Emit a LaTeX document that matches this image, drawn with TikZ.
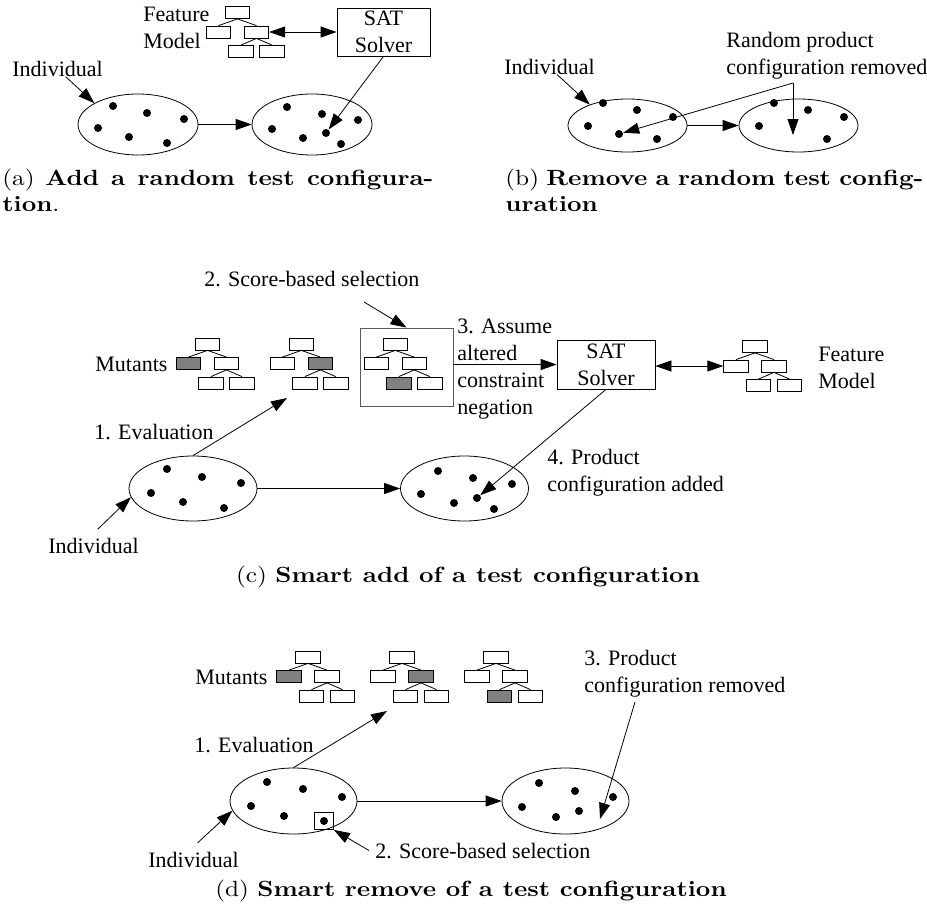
\documentclass[tikz,border=0pt]{standalone}
\usepackage{fontspec}
\setmainfont{Liberation Serif}
\newfontfamily\capfont{lmroman10-regular.otf}[BoldFont=lmroman10-bold.otf, FakeStretch=1.15]
\usepackage{tikz}
\usetikzlibrary{arrows.meta,shapes,positioning,calc}
\usepackage{xcolor}
\definecolor{fmgrey}{RGB}{128,128,128}
\definecolor{selgrey}{RGB}{90,90,90}
\tikzstyle{arrow} = [->,>={Triangle[length=8pt,width=5.5pt]}]
\tikzstyle{biarrow} = [<->,>={Triangle[length=8pt,width=5.5pt]}]
\tikzstyle{fmbox} = [rectangle, draw, fill=white, minimum width=12.25pt, minimum height=6pt, inner sep=0pt]
\tikzstyle{indiv} = [ellipse, draw, inner sep=0pt]
\tikzstyle{pdot} = [circle, fill, inner sep=0pt, minimum size=4pt]
\tikzstyle{lbl} = [anchor=base west, inner sep=0pt, align=left, font=\fontsize{11}{13.5}\selectfont]
\tikzstyle{satbox} = [rectangle, draw, inner sep=0pt, align=center, font=\fontsize{11}{13.5}\selectfont]
\tikzstyle{caption} = [inner sep=0pt, font=\capfont\fontsize{11}{13}\selectfont]
% small feature model tree: #1 name, #2 centre of the top box
\newcommand{\fmtree}[2]{%
  \node[fmbox] (#1t) at (#2) {};
  \node[fmbox] (#1l) at ($(#1t)+(-19,19.5)$) {};
  \node[fmbox] (#1r) at ($(#1t)+(19,19.5)$) {};
  \node[fmbox] (#1rl) at ($(#1r)+(-15.5,19.5)$) {};
  \node[fmbox] (#1rr) at ($(#1r)+(15.5,19.5)$) {};
  \draw (#1t.south) -- (#1l.north);
  \draw (#1t.south) -- (#1r.north);
  \draw (#1r.south) -- (#1rl.north);
  \draw (#1r.south) -- (#1rr.north);
}

\begin{document}
\begin{tikzpicture}[x=0.5pt, y=-0.5pt]
\useasboundingbox (0,0) rectangle (927,905);

% (a) Add a random test configuration
\fmtree{fa}{237.5,12.5}
\node[lbl] (fma) at (143,48) {Feature\\Model};
\node[satbox, minimum width=46.5pt, minimum height=24pt] (sata) at (383.5,32) {SAT\\Solver};
\node[lbl] (ia) at (12,76) {Individual};
\node[indiv, minimum width=60pt, minimum height=30.5pt] (ea1) at (138,124.5) {};
\node[indiv, minimum width=60pt, minimum height=30.5pt] (ea2) at (312,124.5) {};
\foreach \x/\y [count=\i] in {113/106,147/113,184/119,98/128,129/137,167/143}
  \node[pdot] (a1-\i) at (\x,\y) {};
\foreach \x/\y [count=\i] in {287/107,322/114,358/120,272/129,303/138,326/133,341/144}
  \node[pdot] (a2-\i) at (\x,\y) {};
\draw[biarrow] (far.east) -- (far.east -| sata.west);
\draw[arrow] (sata.south) -- (a2-6);
\draw[arrow] ([xshift=4pt]ia.south) -- (ea1.154);
\draw[arrow] (ea1.east) -- (ea2.west);
\node[caption, anchor=base west] (capa) at (2,185) {\parbox[t]{215.5pt}{\hyphenpenalty=10000 (a)~\textbf{Add~a~random~test~configura-}\linebreak\textbf{tion}.}};

% (b) Remove a random test configuration
\node[lbl] (ib) at (504,74) {Individual};
\node[lbl] (rp) at (726,74) {Random product\\configuration removed};
\node[indiv, minimum width=59.5pt, minimum height=26.5pt] (eb1) at (627.5,125.5) {};
\node[indiv, minimum width=59.5pt, minimum height=26.5pt] (eb2) at (798.5,125.5) {};
\foreach \x/\y [count=\i] in {603/103,637/110,673/117,588/126,619/134,657/139}
  \node[pdot] (b1-\i) at (\x,\y) {};
\foreach \x/\y [count=\i] in {774/103,808/110,844/117,759/126,827/139}
  \node[pdot] (b2-\i) at (\x,\y) {};
\coordinate (rpa) at (793,83);
\coordinate (rpb) at (793,135);
\draw[arrow] ([xshift=3.75pt]ib.south) -- (eb1.151);
\draw[arrow] (eb1.east) -- (eb2.west);
\draw[arrow] (rpa) -- (b1-5);
\draw[arrow] (rpa) -- (rpb);
\node[caption, anchor=base west] (capb) at (505,185) {\parbox[t]{209pt}{\hyphenpenalty=10000 (b)~\textbf{Remove~a~random~test~config-}\linebreak\textbf{uration}}};

% (c) Smart add of a test configuration
\fmtree{c1}{207.5,344}
\node[fmbox, fill=fmgrey] (c1g) at (c1l) {};
\fmtree{c2}{301.3,344}
\node[fmbox, fill=fmgrey] (c2g) at (c2r) {};
\node[rectangle, draw=selgrey, minimum width=46.5pt, minimum height=39pt] (selc) at (406.5,367) {};
\fmtree{c3}{395.3,344}
\node[fmbox, fill=fmgrey] (c3g) at (c3rl) {};
\fmtree{fc}{755,346.5}
\node[lbl] (mc) at (95,371) {Mutants};
\node[lbl] (sc) at (204,286) {2. Score-based selection};
\node[lbl] (evc) at (94,439) {1. Evaluation};
\node[lbl] (ic) at (48,553) {Individual};
\node[lbl] (asc) at (457,414) {3. Assume\\altered\\constraint\\negation};
\node[satbox, minimum width=49pt, minimum height=24.5pt] (satc) at (606,364.5) {SAT\\Solver};
\node[lbl] (fmc) at (818,388) {Feature\\Model};
\node[lbl] (pac) at (547,491) {4. Product\\configuration added};
\node[indiv, minimum width=64pt, minimum height=32.5pt] (ec1) at (193,488.5) {};
\node[indiv, minimum width=64pt, minimum height=32.5pt] (ec2) at (464.5,488.5) {};
\foreach \x/\y [count=\i] in {167/469,202/477,241/483,151/493,183/502,224/508}
  \node[pdot] (c1-\i) at (\x,\y) {};
\foreach \x/\y [count=\i] in {438/471,473/478,512/484,421/494,454/503,477/498,494/509}
  \node[pdot] (c2-\i) at (\x,\y) {};
\coordinate (scs) at (364,302);
\coordinate (evct) at (287,398);
\draw[arrow] (scs) -- (selc.north);
\draw[arrow] (ec1.north) -- (evct);
\draw[arrow] (satc.west -| selc.east) -- (satc.west);
\draw[biarrow] (fcl.west -| satc.east) -- (fcl.west);
\draw[arrow] (satc.south) -- (c2-6);
\draw[arrow] (ec1.east) -- (ec2.west);
\draw[arrow] ([shift={(4,-8)}]ic.north) -- (ec1.188);
\node[caption, anchor=base] (capc) at (468,582) {(c) \textbf{Smart add of a test configuration}};

% (d) Smart remove of a test configuration
\fmtree{d1}{308,657}
\node[fmbox, fill=fmgrey] (d1g) at (d1l) {};
\fmtree{d2}{402,657}
\node[fmbox, fill=fmgrey] (d2g) at (d2r) {};
\fmtree{d3}{496,657}
\node[fmbox, fill=fmgrey] (d3g) at (d3rl) {};
\node[lbl] (md) at (195,684) {Mutants};
\node[lbl] (evd) at (194,752) {1. Evaluation};
\node[lbl] (id) at (148,867) {Individual};
\node[lbl] (sd) at (375,858) {2. Score-based selection};
\node[lbl] (prd) at (584,692) {3. Product\\configuration removed};
\node[indiv, minimum width=63.5pt, minimum height=33pt] (ed1) at (293.5,801) {};
\node[indiv, minimum width=63.5pt, minimum height=33pt] (ed2) at (565.5,801) {};
\foreach \x/\y [count=\i] in {267/782,303/789,342/797,251/806,284/816,324/821}
  \node[pdot] (d1-\i) at (\x,\y) {};
\node[rectangle, draw, inner sep=0pt, minimum width=9.5pt, minimum height=8.5pt] (seld) at (d1-6) {};
\foreach \x/\y [count=\i] in {539/783,575/791,613/797,522/807,556/817,579/811}
  \node[pdot] (d2-\i) at (\x,\y) {};
\coordinate (evdt) at (387,711);
\coordinate (prds) at (635,702);
\coordinate (prdt) at (600,819);
\draw[arrow] (ed1.north) -- (evdt);
\draw[arrow] (ed1.east) -- (ed2.west);
\draw[arrow] ([shift={(4,-8.5)}]id.north) -- (ed1.189);
\draw[arrow] ([xshift=-3pt]sd.west) -- (seld.south east);
\draw[arrow] (prds) -- (prdt);
\node[caption, anchor=base] (capd) at (471,896) {(d) \textbf{Smart remove of a test configuration}};
\end{tikzpicture}
\end{document}
